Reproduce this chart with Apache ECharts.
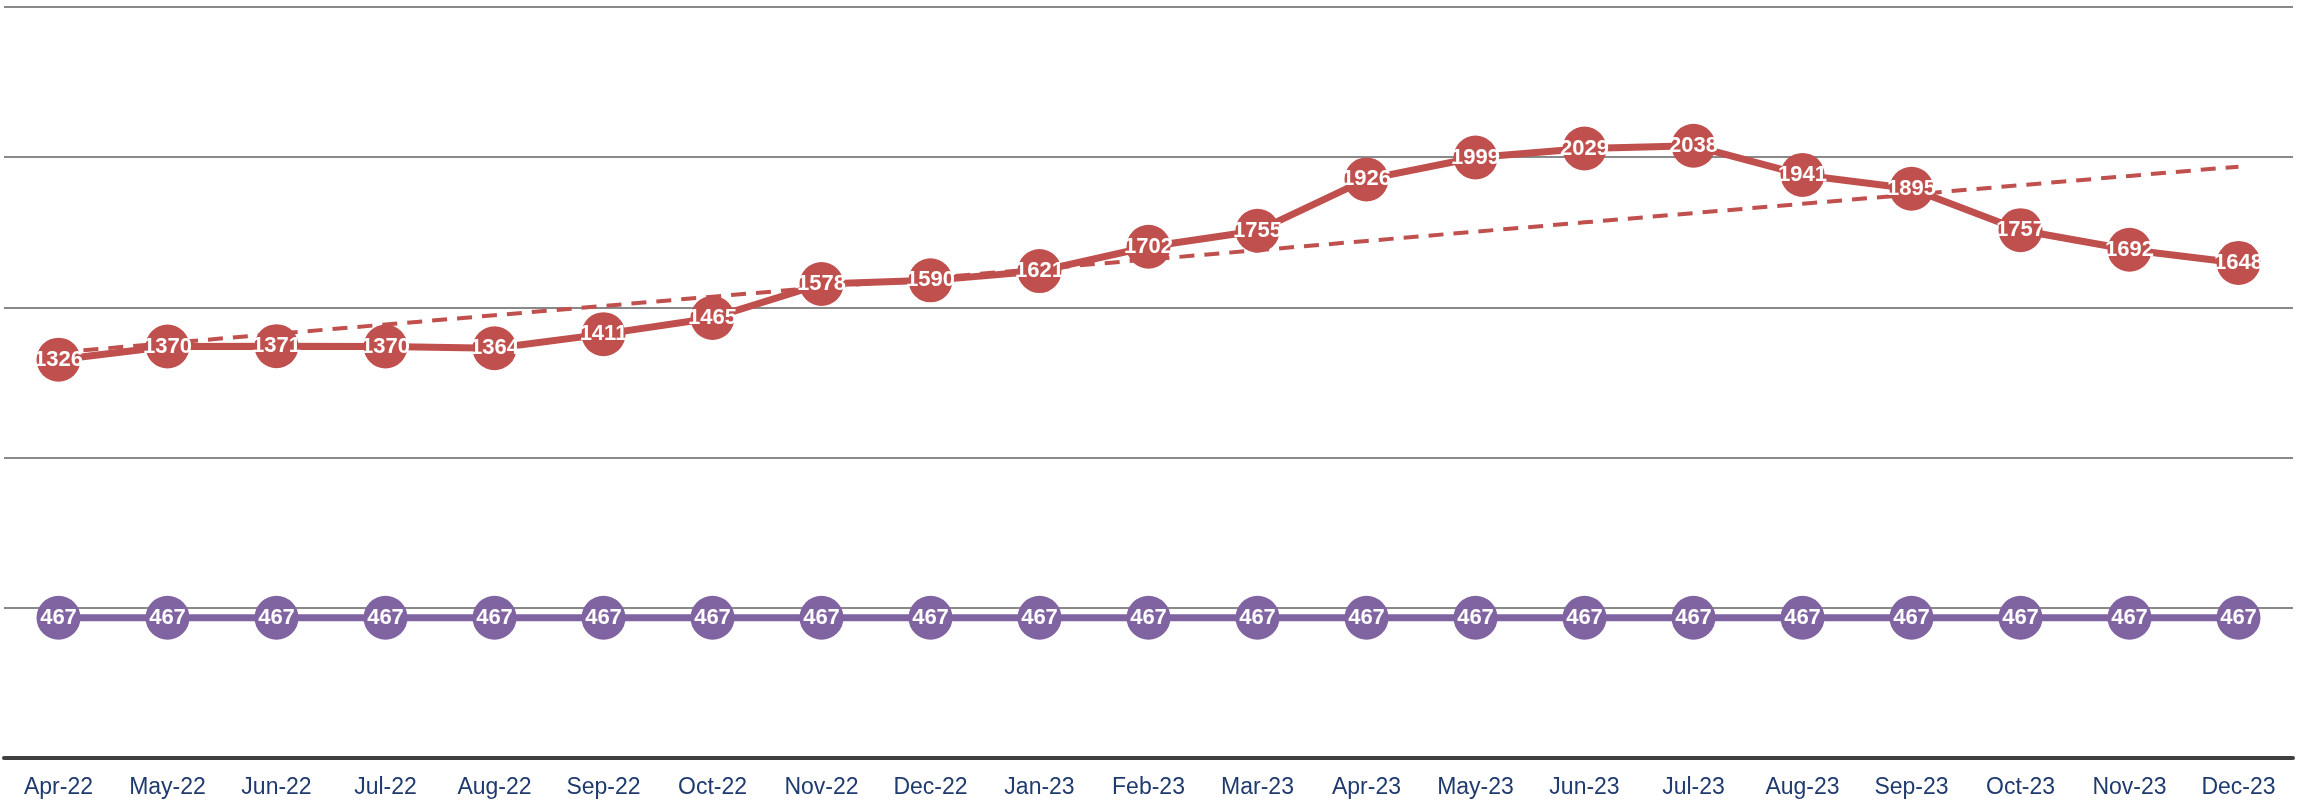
<!DOCTYPE html>
<html><head><meta charset="utf-8">
<script src="https://cdn.jsdelivr.net/npm/echarts@6/dist/echarts.min.js"></script>
<style>html,body{margin:0;padding:0;background:#fff}#c{width:2306px;height:803px}</style>
</head><body><div id="c"></div>
<script>
const categories = ['Apr-22','May-22','Jun-22','Jul-22','Aug-22','Sep-22','Oct-22','Nov-22','Dec-22','Jan-23','Feb-23','Mar-23','Apr-23','May-23','Jun-23','Jul-23','Aug-23','Sep-23','Oct-23','Nov-23','Dec-23'];
const redValues = [1326,1370,1371,1370,1364,1411,1465,1578,1590,1621,1702,1755,1926,1999,2029,2038,1941,1895,1757,1692,1648];
const purpleValues = [467,467,467,467,467,467,467,467,467,467,467,467,467,467,467,467,467,467,467,467,467];

// linear trendline (least squares) of the red series
const n = redValues.length;
let sx=0, sy=0, sxy=0, sxx=0;
redValues.forEach((v,i)=>{sx+=i;sy+=v;sxy+=i*v;sxx+=i*i;});
const slope = (n*sxy - sx*sy)/(n*sxx - sx*sx);
const intercept = (sy - slope*sx)/n;
const trendValues = redValues.map((_,i)=> intercept + slope*i);

const chart = echarts.init(document.getElementById('c'));
const labelStyle = {show:true, position:'inside', color:'#fff', fontWeight:'bold', fontSize:22, fontFamily:'Liberation Sans', formatter:'{c}'};
chart.setOption({
  animation:false,
  grid:{left:4, right:13, top:7, bottom:45},
  xAxis:{type:'category', data:categories, boundaryGap:true,
    axisLine:{lineStyle:{color:'#404040', width:4}}, axisTick:{show:false},
    axisLabel:{color:'#1F3A6E', fontSize:23, fontFamily:'Liberation Sans', margin:18}},
  yAxis:{type:'value', min:0, max:2500, interval:500,
    axisLine:{show:false}, axisTick:{show:false}, axisLabel:{show:false},
    splitLine:{lineStyle:{color:'#898989', width:2}}},
  series:[
    {type:'line', data:trendValues, symbol:'none', z:1, silent:true,
      lineStyle:{color:'#C0504D', width:4, type:[15,10]}},
    {type:'line', data:redValues, symbol:'circle', symbolSize:44, z:3,
      itemStyle:{color:'#C0504D'}, lineStyle:{color:'#C0504D', width:7},
      label:labelStyle},
    {type:'line', data:purpleValues, symbol:'circle', symbolSize:44, z:3,
      itemStyle:{color:'#8064A2'}, lineStyle:{color:'#8064A2', width:7},
      label:labelStyle}
  ]
});
</script></body></html>
